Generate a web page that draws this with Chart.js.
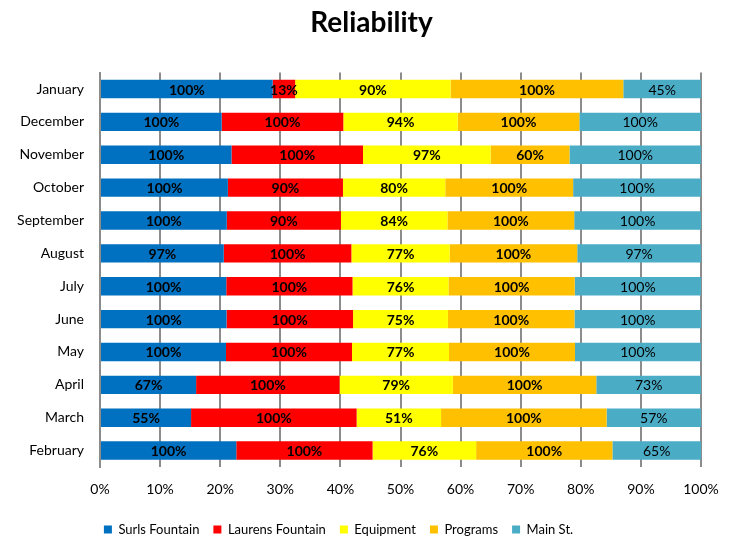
<!DOCTYPE html>
<html>
<head>
<meta charset="utf-8">
<script src="https://cdn.jsdelivr.net/npm/chart.js@4"></script>
<style>
  html, body { margin: 0; padding: 0; background: #fff; }
  #wrap { width: 736px; height: 538px; }
</style>
</head>
<body>
<div id="wrap"><canvas id="reliabilityChart" width="736" height="538"></canvas></div>
<script>
// Months, top to bottom as shown
const months = ['January', 'December', 'November', 'October', 'September', 'August',
                'July', 'June', 'May', 'April', 'March', 'February'];

// Reliability per site (%)
const surlsFountain   = [100, 100, 100, 100, 100, 97, 100, 100, 100, 67, 55, 100];
const laurensFountain = [13, 100, 100, 90, 90, 100, 100, 100, 100, 100, 100, 100];
const equipment       = [90, 94, 97, 80, 84, 77, 76, 75, 77, 79, 51, 76];
const programs        = [100, 100, 60, 100, 100, 100, 100, 100, 100, 100, 100, 100];
const mainSt          = [45, 100, 100, 100, 100, 97, 100, 100, 100, 73, 57, 65];

const xTicks = [0, 10, 20, 30, 40, 50, 60, 70, 80, 90, 100];

const FONT = 'Lato, "Open Sans", sans-serif';

const series = [
    { label: 'Surls Fountain',   values: surlsFountain,   color: '#0070C0', bold: true },
    { label: 'Laurens Fountain', values: laurensFountain, color: '#FF0000', bold: true },
    { label: 'Equipment',        values: equipment,       color: '#FFFF00', bold: true },
    { label: 'Programs',         values: programs,        color: '#FFC000', bold: true },
    { label: 'Main St.',         values: mainSt,          color: '#4BACC6', bold: false }
];

// 100% stacked: share of each month's total
const totals = months.map((m, i) => series.reduce((s, d) => s + d.values[i], 0));

// Draws the raw value in the middle of each segment
const segmentLabels = {
    id: 'segmentLabels',
    afterDatasetsDraw(chart) {
        const ctx = chart.ctx;
        ctx.save();
        ctx.textAlign = 'center';
        ctx.textBaseline = 'middle';
        ctx.fillStyle = '#000';
        chart.data.datasets.forEach((ds, di) => {
            const meta = chart.getDatasetMeta(di);
            ctx.font = (ds.boldLabel ? 'bold ' : '') + '14px ' + FONT;
            meta.data.forEach((bar, i) => {
                const cx = (bar.x + bar.base) / 2;
                ctx.fillText(ds.raw[i] + '%', cx, bar.y + 1);
            });
        });
        ctx.restore();
    }
};

// Title sits a bit right of the plot centre, legend a bit left
const nudgeBoxes = {
    id: 'nudgeBoxes',
    afterLayout(chart) {
        if (chart.titleBlock) {
            chart.titleBlock.left += 21;
            chart.titleBlock.right += 21;
        }
        if (chart.legend) {
            chart.legend.left -= 12;
            chart.legend.right -= 12;
        }
    }
};

new Chart(document.getElementById('reliabilityChart'), {
    type: 'bar',
    data: {
        labels: months,
        datasets: series.map(s => ({
            label: s.label,
            data: s.values.map((v, i) => v / totals[i] * 100),
            raw: s.values,
            boldLabel: s.bold,
            backgroundColor: s.color,
            borderWidth: 0,
            barPercentage: 0.56,
            categoryPercentage: 1
        }))
    },
    options: {
        indexAxis: 'y',
        responsive: false,
        animation: false,
        layout: { padding: { left: 0, right: 35, top: 0, bottom: -8 } },
        scales: {
            x: {
                stacked: true,
                min: 0,
                max: 100,
                afterBuildTicks(scale) {
                    scale.ticks = xTicks.map(v => ({ value: v }));
                },
                afterFit(scale) { scale.height = 42; },
                grid: { color: '#8c8c8c', lineWidth: 2, drawTicks: false },
                border: { display: false },
                ticks: {
                    color: '#000',
                    padding: 14,
                    font: { family: FONT, size: 14 },
                    callback: v => v + '%'
                }
            },
            y: {
                stacked: true,
                afterFit(scale) { scale.width = 100; },
                grid: { display: false },
                border: { color: '#8c8c8c', width: 2 },
                ticks: {
                    color: '#000',
                    padding: 8,
                    font: { family: FONT, size: 14 }
                }
            }
        },
        plugins: {
            title: {
                display: true,
                text: 'Reliability',
                color: '#000',
                font: { family: FONT, size: 28, weight: 'bold' },
                padding: { top: 6, bottom: 33 }
            },
            legend: {
                position: 'bottom',
                labels: {
                    color: '#000',
                    boxWidth: 8,
                    boxHeight: 8,
                    padding: 14,
                    font: { family: FONT, size: 13 }
                }
            },
            tooltip: { enabled: false }
        }
    },
    plugins: [segmentLabels, nudgeBoxes]
});
</script>
</body>
</html>
